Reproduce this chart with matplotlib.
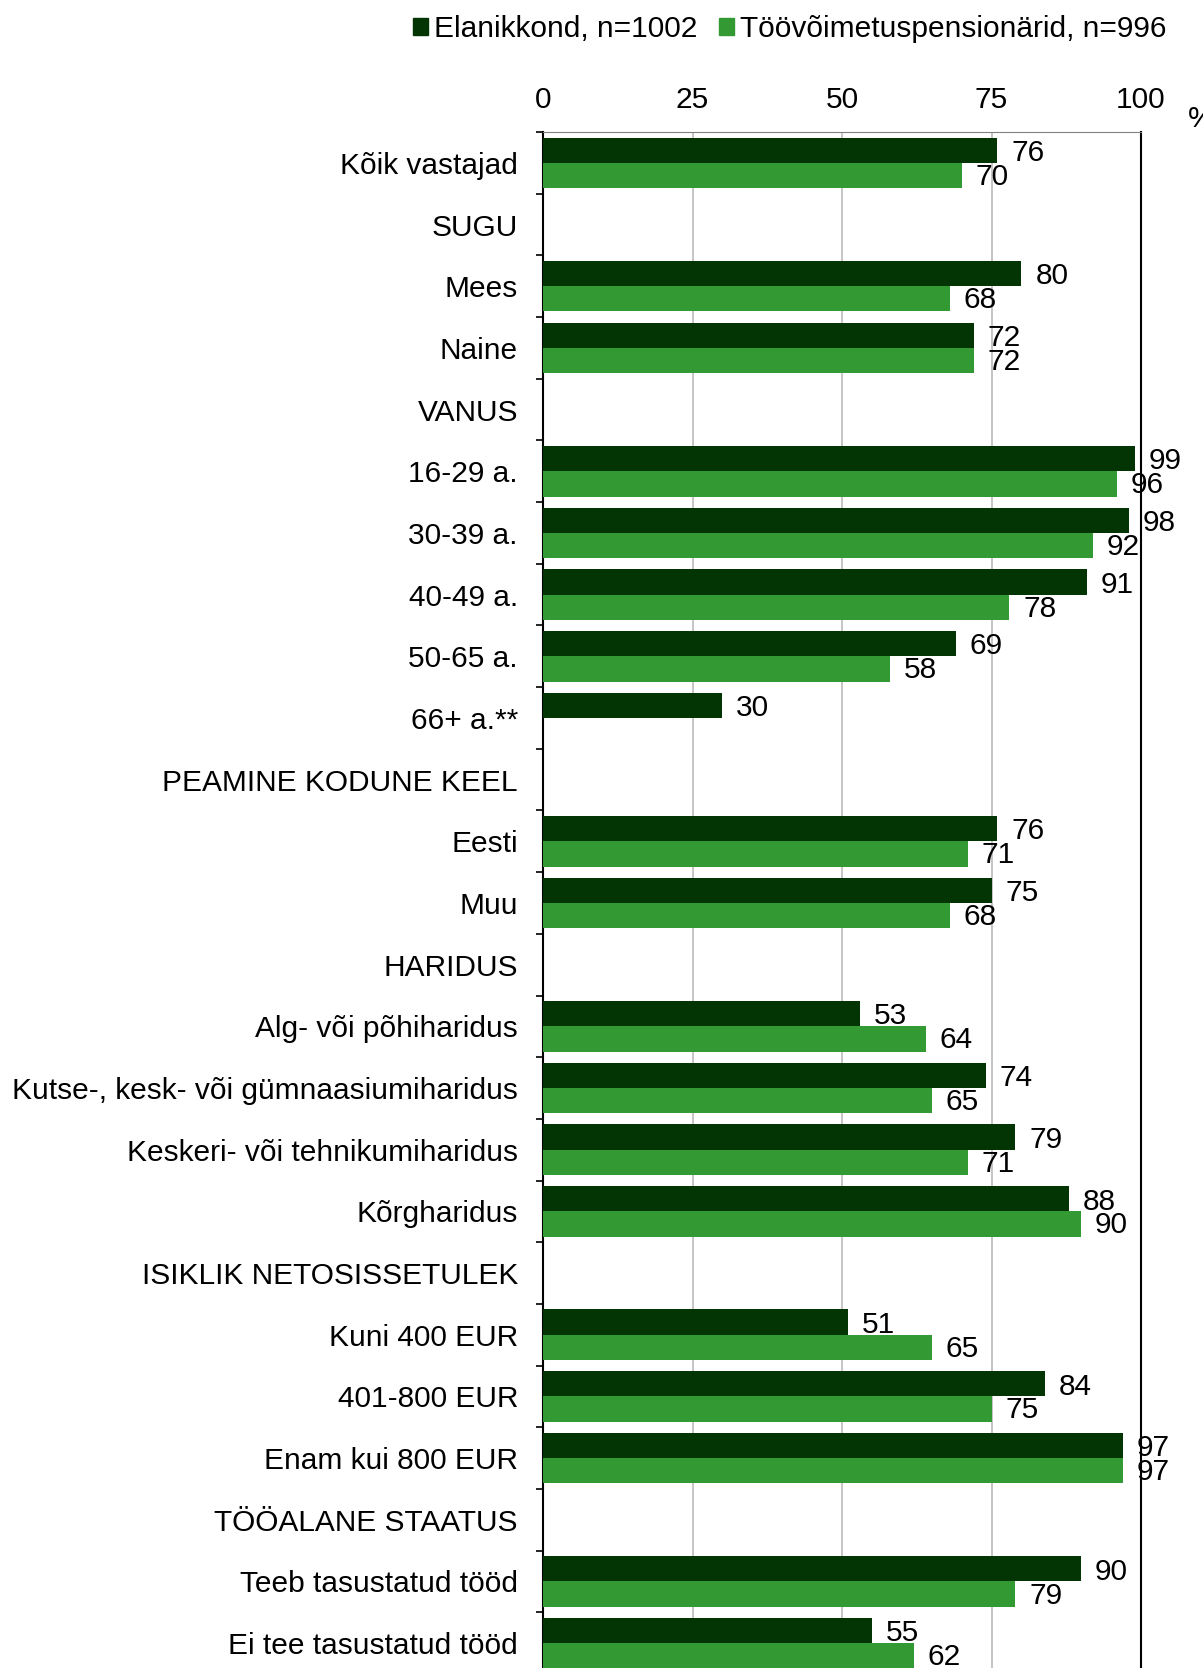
"""Tööealiste elanike ja töövõimetuspensionäride osakaalud taustarühmade lõikes."""

import matplotlib

matplotlib.use("Agg")
import matplotlib.pyplot as plt  # noqa: E402
from matplotlib.patches import Patch  # noqa: E402

categories = [
    "Kõik vastajad", "SUGU", "Mees", "Naine", "VANUS", "16-29 a.", "30-39 a.",
    "40-49 a.", "50-65 a.", "66+ a.**", "PEAMINE KODUNE KEEL", "Eesti", "Muu",
    "HARIDUS", "Alg- või põhiharidus", "Kutse-, kesk- või gümnaasiumiharidus",
    "Keskeri- või tehnikumiharidus", "Kõrgharidus", "ISIKLIK NETOSISSETULEK",
    "Kuni 400 EUR", "401-800 EUR", "Enam kui 800 EUR", "TÖÖALANE STAATUS",
    "Teeb tasustatud tööd", "Ei tee tasustatud tööd",
]
elanikkond = [76, None, 80, 72, None, 99, 98, 91, 69, 30, None, 76, 75, None,
              53, 74, 79, 88, None, 51, 84, 97, None, 90, 55]
pensionarid = [70, None, 68, 72, None, 96, 92, 78, 58, None, None, 71, 68, None,
               64, 65, 71, 90, None, 65, 75, 97, None, 79, 62]
series_labels = ["Elanikkond, n=1002", "Töövõimetuspensionärid, n=996"]
ticks = [0, 25, 50, 75, 100]

DARK, GREEN = "#033403", "#339933"
FS = 21.5
plt.rcParams["font.family"] = ["Liberation Sans", "DejaVu Sans"]
plt.rcParams["font.size"] = FS

W, H = 1203, 1668
fig = plt.figure(figsize=(W / 100, H / 100), dpi=100)
ax = fig.add_axes([543 / W, (H - 1674) / H, (1141 - 543) / W, (1674 - 132) / H])

bar_h = 0.41
for offset, values, color in [(-bar_h / 2, elanikkond, DARK), (bar_h / 2, pensionarid, GREEN)]:
    for i, v in enumerate(values):
        if v is None:
            continue
        ax.barh(i + offset, v, height=bar_h, color=color, zorder=3)
        ax.annotate(f"{v}", (v, i + offset), xytext=(10, -2 if offset < 0 else -1),
                    textcoords="offset points", ha="left", va="center",
                    fontsize=FS, annotation_clip=False, zorder=4)

n = len(categories)
ax.set_ylim(n - 0.5, -0.5)
ax.set_xlim(0, 100)
ax.set_xticks(ticks)
ax.xaxis.tick_top()
ax.tick_params(axis="x", length=0, pad=13, labelsize=FS)
ax.grid(axis="x", color="#c0c0c0", linewidth=1.3, zorder=0)

ax.set_yticks([i - 0.5 for i in range(n)])
ax.set_yticklabels([])
ax.set_yticks(range(n), minor=True)
ax.set_yticklabels(categories, minor=True)
ax.tick_params(axis="y", which="major", direction="out", length=5, width=1.2)
ax.tick_params(axis="y", which="minor", length=0, pad=18, labelsize=FS)

for side in ("left", "right"):
    ax.spines[side].set_color("black")
    ax.spines[side].set_linewidth(1.5)
ax.spines["top"].set_color("#808080")
ax.spines["bottom"].set_visible(False)

fig.text(1188 / W, 1 - 119 / H, "%", ha="left", va="center", fontsize=FS)

handles = [Patch(color=DARK), Patch(color=GREEN)]
fig.legend(handles, series_labels, loc="center right",
           bbox_to_anchor=(1166 / W, 1 - 29 / H), ncol=2, frameon=False,
           borderpad=0, borderaxespad=0, handlelength=0.5, handleheight=0.5,
           handletextpad=0.2, columnspacing=0.7, fontsize=FS)

fig.savefig("out.png", dpi=100)
